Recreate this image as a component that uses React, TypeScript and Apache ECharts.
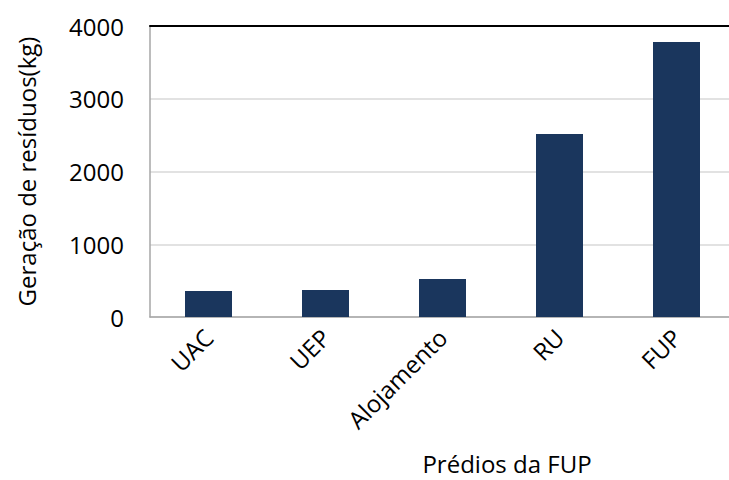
import React, { useEffect, useRef } from "react";
import * as echarts from "echarts";

const categories = ["UAC", "UEP", "Alojamento", "RU", "FUP"];
const values = [357, 371, 522, 2515, 3780];
const yTicks = [0, 1000, 2000, 3000, 4000];

export default function App() {
  const ref = useRef<HTMLDivElement>(null);
  useEffect(() => {
    const chart = echarts.init(ref.current!, null, { renderer: "svg" });
    const font = "'Open Sans', 'Noto Sans', sans-serif";
    chart.setOption({
      animation: false,
      textStyle: { fontFamily: font },
      title: {
        text: "Prédios da FUP",
        left: 507,
        textAlign: "center",
        top: 451,
        padding: 0,
        textStyle: { fontSize: 24, fontWeight: "normal", color: "#000", fontFamily: font },
      },
      grid: {
        left: 150,
        top: 26,
        width: 585,
        height: 291,
        containLabel: false,
        outerBoundsMode: "none",
      },
      xAxis: [
        {
          type: "category",
          data: categories,
          axisLine: { lineStyle: { color: "#a6a6a6", width: 1.5 } },
          axisTick: { show: false },
          axisLabel: { rotate: 45, fontSize: 24, color: "#000", margin: 16, interval: 0 },
        },
        {
          type: "category",
          position: "top",
          data: categories,
          axisLine: { lineStyle: { color: "#000", width: 2 } },
          axisTick: { show: false },
          axisLabel: { show: false },
        },
      ],
      yAxis: {
        type: "value",
        min: yTicks[0],
        max: yTicks[yTicks.length - 1],
        interval: 1000,
        name: "Geração de resíduos(kg)",
        nameLocation: "middle",
        nameGap: 112,
        nameRotate: 90,
        nameTextStyle: { fontSize: 24, color: "#000" },
        axisLine: { show: true, lineStyle: { color: "#a6a6a6", width: 1.5 } },
        axisTick: { show: false },
        axisLabel: { fontSize: 24, color: "#000", margin: 26, formatter: (v: number) => String(v) },
        splitLine: { lineStyle: { color: "#d9d9d9", width: 1.5 } },
      },
      series: [
        {
          type: "bar",
          data: values,
          barWidth: 47,
          itemStyle: { color: "#1a365d" },
        },
      ],
    });
    return () => chart.dispose();
  }, []);
  return <div ref={ref} style={{ width: 729, height: 480, position: "absolute", left: 0, top: 0 }} />;
}
